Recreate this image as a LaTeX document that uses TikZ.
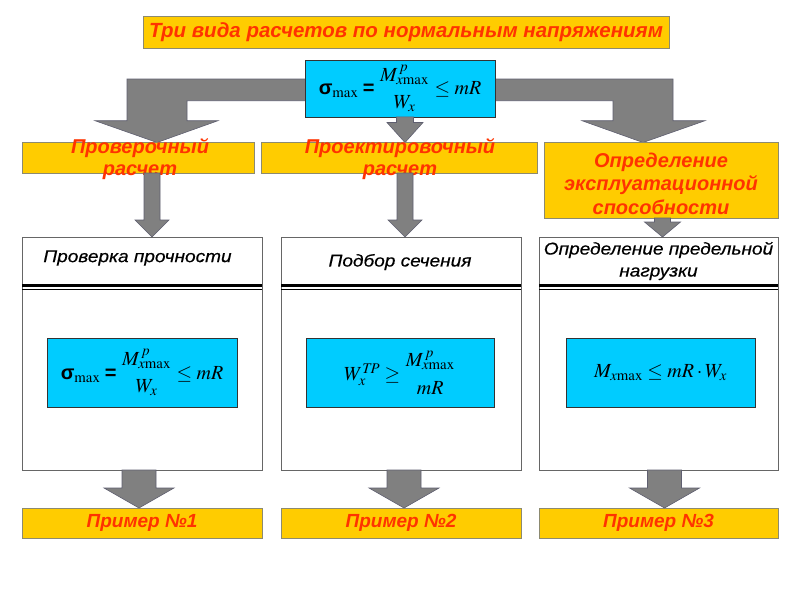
\documentclass[tikz,border=0pt]{standalone}
\usepackage{amsmath}
\usepackage{mathptmx}
\usepackage[no-math]{fontspec}
\setsansfont{Liberation Sans}
\newfontfamily\sigfont{Liberation Sans}
\newfontfamily\hdfont{Liberation Sans}[FakeStretch=1.12,FakeBold=0.5]
\usetikzlibrary{calc}
\definecolor{ygold}{HTML}{FFCC00}
\definecolor{rtext}{HTML}{FF3300}
\definecolor{cyanf}{HTML}{00CCFF}
\definecolor{agray}{HTML}{808080}
\definecolor{aedge}{HTML}{5F5F70}
\definecolor{yedge}{HTML}{8C8A70}
\newcommand\vblk[5]{%
  \filldraw[blockarrow] let \p1=(#1), \p2=(#2) in
    (\x2-#3pt,\y1) -- (\x2-#3pt,\y2+#5pt) -- (\x2-#4pt,\y2+#5pt) -- (\x2,\y2)
    -- (\x2+#4pt,\y2+#5pt) -- (\x2+#3pt,\y2+#5pt) -- (\x2+#3pt,\y1) -- cycle;}
\newcommand\bsig{\mbox{\sigfont\bfseries σ}}
\newcommand\beq{\mathrel{\mbox{\sigfont\bfseries =}}}
\newcommand\mx{\mathrm{max}}
\begin{document}
\begin{tikzpicture}[x=1pt,y=-1pt,
  ybox/.style={draw=yedge, line width=0.8pt, fill=ygold, inner sep=0pt, outer sep=0pt},
  rtxt/.style={text=rtext, font=\sffamily\bfseries\itshape\fontsize{20}{22}\selectfont, align=center, inner sep=0pt},
  ptxt/.style={text=rtext, font=\sffamily\bfseries\itshape\fontsize{19}{22}\selectfont, align=center, inner sep=0pt},
  cbox/.style={draw=black!80, line width=0.6pt, fill=cyanf, inner sep=0pt, outer sep=0pt, font=\fontsize{20}{24}\selectfont},
  wbox/.style={draw=black!60, line width=0.8pt, fill=white, inner sep=0pt, outer sep=0pt},
  htxt/.style={font=\hdfont\itshape\fontsize{17}{22}\selectfont, align=center, inner sep=0pt},
  blockarrow/.style={fill=agray, draw=aedge, line width=0.6pt, line join=miter}]
\useasboundingbox[fill=white] (0,0) rectangle (800,600);
% title
\node[ybox, minimum width=526pt, minimum height=32pt, rtxt, font=\sffamily\bfseries\itshape\fontsize{20.5}{22}\selectfont] (title) at (406,32) {Три вида расчетов по нормальным напряжениям};
% row 2 boxes (positions)
\path (138,157.75) node[ybox, minimum width=232pt, minimum height=30.5pt] (r2a) {};
\path (399,157.75) node[ybox, minimum width=276pt, minimum height=30.5pt] (r2b) {};
\path (661,180.25) node[ybox, minimum width=234pt, minimum height=75.5pt] (r2c) {};
\coordinate (topc) at (400,88.3);
% bent arrows
\filldraw[blockarrow] (306,79) -- (127,79) -- (127,120.7) -- (95,120.7) -- ($(r2a.north)+(19,0)$)
  -- (218,120.7) -- (187,120.7) -- (187,100.7) -- (306,100.7) -- cycle;
\filldraw[blockarrow] (494,79) -- (673,79) -- (673,120.7) -- (705,120.7) -- ($(r2c.north)+(-18,0)$)
  -- (582,120.7) -- (613,120.7) -- (613,100.7) -- (494,100.7) -- cycle;
\node[cbox, minimum width=190pt, minimum height=57pt] (top) at (topc)
  {$\bsig_{\mx}\beq\genfrac{}{}{0pt}{0}{M^{\,p}_{x\mx}}{W_x}\leq mR$};
\vblk{top.south}{$(r2b.north)+(6,0)$}{8.5}{18}{20}
% redraw row 2 boxes over arrow tips
\node[ybox, minimum width=232pt, minimum height=30.5pt] at (r2a.center) {};
\node[ybox, minimum width=276pt, minimum height=30.5pt] at (r2b.center) {};
\node[ybox, minimum width=234pt, minimum height=75.5pt] at (r2c.center) {};
\node[rtxt] (t2a) at ($(r2a.center)+(2,1.5)$) {Проверочный\\расчет};
\node[rtxt] (t2b) at ($(r2b.center)+(1,1.5)$) {Проектировочный\\расчет};
\node[rtxt, font=\sffamily\bfseries\itshape\fontsize{20}{23.5}\selectfont] (t2c) at ($(r2c.center)+(0,3.5)$) {Определение\\эксплуатационной\\способности};
% white boxes
\node[wbox, minimum width=240pt, minimum height=233pt] (w1) at (142,353.5) {};
\node[wbox, minimum width=240pt, minimum height=233pt] (w2) at (401,353.5) {};
\node[wbox, minimum width=239pt, minimum height=233pt] (w3) at (658.5,353.5) {};
% arrows row 2 -> row 3
\vblk{r2a.south}{$(w1.north)+(10,0)$}{8}{17}{17}
\vblk{r2b.south}{$(w2.north)+(4,0)$}{8}{17}{17}
\vblk{r2c.south}{$(w3.north)+(4,0)$}{8}{18}{15}
% headers
\foreach \w in {w1,w2,w3}{
  \draw[line width=2.5pt] ($(\w.north west)+(0,48.5)$) -- ($(\w.north east)+(0,48.5)$);
  \draw[line width=1pt] ($(\w.north west)+(0,52.5)$) -- ($(\w.north east)+(0,52.5)$);
}
\node[htxt] (h1) at ($(w1.north)+(-4.5,21)$) {Проверка прочности};
\node[htxt] (h2) at ($(w2.north)+(-1,25)$) {Подбор сечения};
\node[htxt] (h3) at ($(w3.north)+(0,24)$) {Определение предельной\\нагрузки};
% formula boxes
\node[cbox, minimum width=190pt, minimum height=69pt] (f1) at (142,372.5)
  {$\bsig_{\mx}\beq\genfrac{}{}{0pt}{0}{M^{\,p}_{x\mx}}{W_x}\leq mR$};
\node[cbox, minimum width=188pt, minimum height=69pt] (f2) at (400,372.5)
  {$W_x^{T\!P}\geq\genfrac{}{}{0pt}{0}{M^{\,p}_{x\mx}}{mR}$};
\node[cbox, minimum width=189pt, minimum height=69pt] (f3) at (660.5,372.5)
  {$M_{x\mx}\leq mR\cdot W_x$};
% bottom boxes
\node[ybox, ptxt, minimum width=240pt, minimum height=30pt] (p1) at (142,523) {Пример №1};
\node[ybox, ptxt, minimum width=240pt, minimum height=30pt] (p2) at (401,523) {Пример №2};
\node[ybox, ptxt, minimum width=239pt, minimum height=30pt] (p3) at (658.5,523) {Пример №3};
% arrows row 3 -> bottom
\vblk{w1.south}{$(p1.north)+(-3,0)$}{17}{35}{20}
\vblk{w2.south}{$(p2.north)+(3,0)$}{17}{35}{20}
\vblk{w3.south}{$(p3.north)+(6,0)$}{17}{35}{20}
\end{tikzpicture}
\end{document}
